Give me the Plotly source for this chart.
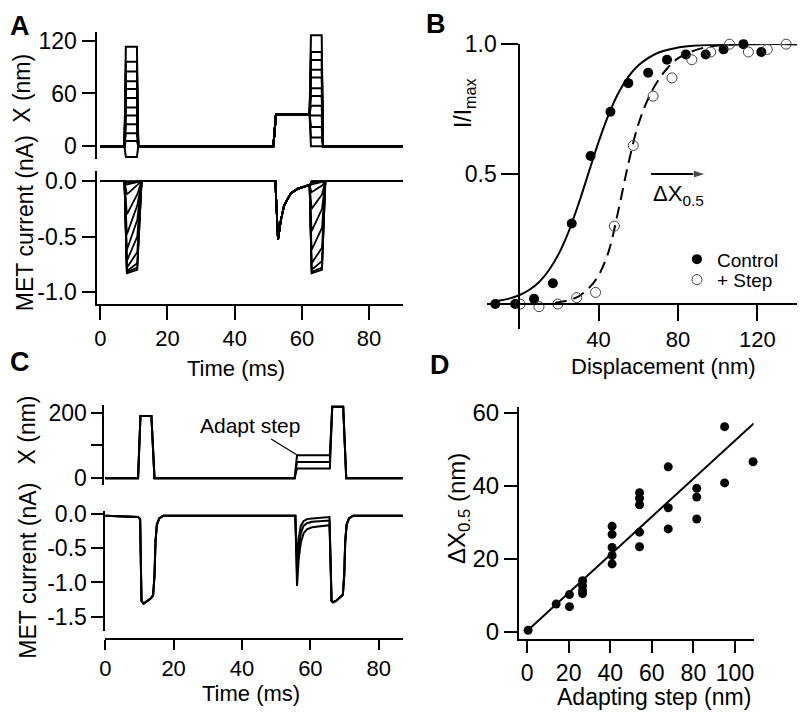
import plotly.graph_objects as go

W, H = 800, 716
FONT = "Liberation Sans, Arial, sans-serif"

# ---------------- Panel A : stimulus (X, nm) ----------------
A_T = [0, 7.2, 7.6, 10.9, 11.3, 51.5, 52.3, 62.3, 62.7, 65.9, 66.3, 90]
A_PULSE1 = [-12, 6, 15, 25, 35, 44, 55, 65, 74, 85, 96, 113]
A_STEP = 36.5
A_PULSE2 = [0, 10, 22, 35, 46, 57, 66, 78, 87, 98, 107, 126]

# ---------------- Panel A : MET current (nA) ----------------
A_I_T_PRE = [0, 7.2, 7.9, 11.0, 12.3]
A_PEAK1 = [0.0, -0.01, -0.03, -0.12, -0.30, -0.48, -0.62, -0.72, -0.78, -0.81, -0.82, -0.83]
A_END1 = [0.0, 0.0, -0.01, -0.04, -0.12, -0.22, -0.35, -0.50, -0.64, -0.74, -0.78, -0.80]
A_ADAPT_T = [52.1, 52.9, 53.7, 54.7, 56.7, 58.7, 61.6]
A_ADAPT_I = [0.0, -0.53, -0.36, -0.22, -0.11, -0.07, -0.04]
A_I_T_POST = [62.3, 62.9, 66.0, 67.0, 90]
A_PEAK2 = [0.0, 0.0, -0.01, -0.03, -0.10, -0.25, -0.45, -0.62, -0.74, -0.80, -0.82, -0.83]
A_END2 = [0.0, 0.0, 0.0, -0.01, -0.04, -0.12, -0.25, -0.42, -0.60, -0.72, -0.78, -0.80]

# ---------------- Panel B : I/Imax vs displacement ----------------
B_CTRL_X = [-12, -2, 7.5, 17, 26.5, 36, 46, 55, 65, 74.5, 84, 94, 103, 113, 122]
B_CTRL_Y = [0.0, 0.0, 0.02, 0.08, 0.31, 0.57, 0.74, 0.85, 0.89, 0.94, 0.96, 0.96, 0.98, 1.0, 0.97]
B_STEP_X = [0.5, 10, 19.5, 29, 38.5, 48, 57.5, 67.5, 77, 87, 96.5, 106, 115.5, 125, 134.5]
B_STEP_Y = [0.0, -0.01, 0.0, 0.025, 0.045, 0.30, 0.61, 0.80, 0.87, 0.94, 0.97, 1.0, 0.97, 0.98, 1.0]
B_FITC_X = [-12, -5, 0, 5, 10, 15, 20, 25, 30, 35, 40, 45, 50, 55, 60, 70, 80, 90, 100, 120, 140]
B_FITC_Y = [0.011, 0.021, 0.034, 0.054, 0.084, 0.13, 0.194, 0.28, 0.387, 0.505, 0.623, 0.727,
            0.812, 0.874, 0.918, 0.967, 0.987, 0.995, 0.998, 1.0, 1.0]
B_FITS_X = [18, 20, 25, 30, 35, 40, 45, 50, 55, 60, 65, 70, 75, 80, 90, 100, 110, 140]
B_FITS_Y = [0.004, 0.007, 0.015, 0.03, 0.06, 0.11, 0.2, 0.36, 0.54, 0.69, 0.79, 0.86, 0.91,
            0.945, 0.98, 0.995, 1.0, 1.0]
B_ARROW_X = [66.5, 94]
B_ARROW_Y = [0.5, 0.5]

# ---------------- Panel C : stimulus ----------------
C_T = [0, 9.6, 10.3, 13.5, 14.4, 55.4, 56.1, 65.7, 66.4, 69.6, 70.5, 87]
C_PULSE1 = 190
C_STEPS = [30, 50, 70]
C_PULSE2 = 218

# ---------------- Panel C : current ----------------
C_I_T_PRE = [0, 9.6, 10.2, 10.6, 11.2, 12.2, 13.2, 14.0, 14.4, 14.7, 15.1, 15.8, 17.0, 55.6]
C_I_PRE = [-0.02, -0.04, -0.07, -1.27, -1.31, -1.28, -1.24, -1.19, -0.9, -0.4, -0.15, -0.06, -0.02, -0.02]
C_ADAPT_T = [56.1, 56.6, 57.2, 58.0, 59.0, 60.5, 63.0, 65.6]
C_ADAPT_I = [
    [-0.70, -0.35, -0.17, -0.10, -0.07, -0.06, -0.05, -0.04],
    [-0.88, -0.50, -0.28, -0.17, -0.13, -0.11, -0.10, -0.09],
    [-1.05, -0.65, -0.42, -0.28, -0.22, -0.19, -0.17, -0.16],
]
C_I_T_POST = [66.2, 66.6, 67.5, 68.5, 69.5, 69.9, 70.2, 70.6, 71.3, 72.5, 87]
C_I_POST = [-1.27, -1.29, -1.27, -1.22, -1.18, -0.9, -0.4, -0.15, -0.06, -0.02, -0.02]

# ---------------- Panel D : shift vs adapting step ----------------
D_X = [0.5, 14, 20.4, 20.4, 26.7, 26.7, 26.7, 26.7, 40.9, 40.9, 40.9, 40.9, 40.9,
       54.1, 54.1, 54.1, 54.1, 54.1, 67.9, 67.9, 67.9, 81.6, 81.6, 81.6, 95, 95, 95, 108.7]
D_Y = [0.4, 7.6, 10.2, 6.9, 14.0, 12.6, 11.3, 10.5, 28.9, 26.7, 23.1, 20.9, 18.6,
       38.1, 36.6, 34.8, 27.3, 23.3, 45.2, 34.0, 28.2, 39.3, 36.9, 30.9, 61.8, 56.2, 40.8, 46.6]
D_FIT_X = [0, 109]
D_FIT_Y = [0.2, 57.1]


def px(x):
    return x / W


def py(y):
    return 1 - y / H


fig = go.Figure()
LINE = dict(color="black", width=2)

# Panel A stimulus
for a1, a2 in zip(A_PULSE1, A_PULSE2):
    yv = [0, 0, a1, a1, 0, 0, A_STEP, A_STEP, a2, a2, 0, 0]
    fig.add_trace(go.Scatter(x=A_T, y=yv, mode="lines", line=LINE, xaxis="x2", yaxis="y2",
                             showlegend=False, hoverinfo="skip", cliponaxis=False))
# Panel A current
for p1, e1, p2, e2 in zip(A_PEAK1, A_END1, A_PEAK2, A_END2):
    tv = A_I_T_PRE + A_ADAPT_T + A_I_T_POST
    iv = [0, 0, p1, e1, 0] + A_ADAPT_I + [-0.04, p2, e2, 0, 0]
    fig.add_trace(go.Scatter(x=tv, y=iv, mode="lines", line=dict(color="black", width=1.8),
                             xaxis="x", yaxis="y", showlegend=False, hoverinfo="skip"))

# Panel B
fig.add_trace(go.Scatter(x=B_FITC_X, y=B_FITC_Y, mode="lines",
                         line=dict(color="black", width=2, shape="spline"),
                         xaxis="x3", yaxis="y3", showlegend=False, cliponaxis=False))
fig.add_trace(go.Scatter(x=B_FITS_X, y=B_FITS_Y, mode="lines",
                         line=dict(color="black", width=2, shape="spline", dash="12px,7px"),
                         xaxis="x3", yaxis="y3", showlegend=False, cliponaxis=False))
fig.add_trace(go.Scatter(x=B_CTRL_X, y=B_CTRL_Y, mode="markers", name="Control", legend="legend",
                         marker=dict(symbol="circle", size=10, color="black"),
                         xaxis="x3", yaxis="y3", cliponaxis=False))
fig.add_trace(go.Scatter(x=B_STEP_X, y=B_STEP_Y, mode="markers", name="+ Step", legend="legend2",
                         marker=dict(symbol="circle-open", size=10, color="#444", line=dict(width=1)),
                         xaxis="x3", yaxis="y3", cliponaxis=False))
fig.add_trace(go.Scatter(x=B_ARROW_X, y=B_ARROW_Y, mode="lines+markers",
                         line=dict(color="black", width=2),
                         marker=dict(symbol=["circle", "arrow"], size=[0, 13], color="black",
                                     angleref="previous"),
                         xaxis="x3", yaxis="y3", showlegend=False, cliponaxis=False))

# Panel C stimulus
for s in C_STEPS:
    yv = [0, 0, C_PULSE1, C_PULSE1, 0, 0, s, s, C_PULSE2, C_PULSE2, 0, 0]
    fig.add_trace(go.Scatter(x=C_T, y=yv, mode="lines", line=LINE, xaxis="x4", yaxis="y4",
                             showlegend=False, hoverinfo="skip", cliponaxis=False))
# Panel C current
for ad in C_ADAPT_I:
    tv = C_I_T_PRE + C_ADAPT_T + C_I_T_POST
    iv = C_I_PRE + ad + C_I_POST
    fig.add_trace(go.Scatter(x=tv, y=iv, mode="lines", line=LINE, xaxis="x5", yaxis="y5",
                             showlegend=False, hoverinfo="skip"))

# Panel D
fig.add_trace(go.Scatter(x=D_FIT_X, y=D_FIT_Y, mode="lines", line=dict(color="black", width=2),
                         xaxis="x6", yaxis="y6", showlegend=False, cliponaxis=False))
fig.add_trace(go.Scatter(x=D_X, y=D_Y, mode="markers", marker=dict(size=9, color="black"),
                         xaxis="x6", yaxis="y6", showlegend=False, cliponaxis=False))

TF = dict(family=FONT, size=23, color="black")
TFS = dict(family=FONT, size=22, color="black")
base = dict(showgrid=False, zeroline=False, showline=True, linecolor="black", linewidth=1.6,
            ticks="outside", tickcolor="black", tickwidth=1.6, tickfont=TF)

A_DOM = [px(92), px(400)]
A_RANGE = [-0.89, 90.1]
C_DOM = [px(99), px(400)]
C_RANGE = [-0.29, 87.1]
LEG = dict(xanchor="left", yanchor="middle", bgcolor="rgba(0,0,0,0)",
           font=dict(family=FONT, size=19, color="black"), itemwidth=30)

fig.update_layout(
    width=W, height=H, margin=dict(l=0, r=0, t=0, b=0),
    paper_bgcolor="white", plot_bgcolor="rgba(0,0,0,0)",
    font=dict(family=FONT, color="black"),
    xaxis=dict(base, domain=A_DOM, range=A_RANGE, anchor="y", ticklen=14, tickfont=TFS,
               tickvals=[0, 20, 40, 60, 80]),
    yaxis=dict(base, domain=[py(299), py(162)], range=[-1.108, 0.094], anchor="x", ticklen=14,
               tickvals=[0, -0.5, -1.0], ticktext=["0.0", "-0.5", "-1.0"]),
    xaxis2=dict(domain=A_DOM, range=A_RANGE, anchor="y2", visible=False),
    yaxis2=dict(base, domain=[py(150), py(20)], range=[-14.35, 129.2], anchor="x2", ticklen=14,
                tickvals=[0, 60, 120], ticktext=["0", "60", "120"]),
    xaxis3=dict(base, domain=[px(485), px(797)], range=[-16, 140], anchor="free", position=py(299),
                ticklen=16, tickfont=TFS, tickvals=[40, 80, 120]),
    yaxis3=dict(base, domain=[py(325), py(32)], range=[-0.0974, 1.0], anchor="free", position=px(517),
                ticklen=17, tickvals=[0.5, 1.0], ticktext=["0.5", "1.0"]),
    xaxis4=dict(domain=C_DOM, range=C_RANGE, anchor="y4", visible=False),
    yaxis4=dict(base, domain=[py(485), py(402.7)], range=[-20.8, 223.4], anchor="x4", ticklen=11,
                tickvals=[0, 200], ticktext=["0", "200"],
                minor=dict(tickvals=[100], ticks="outside", ticklen=11, tickcolor="black", tickwidth=1.6)),
    xaxis5=dict(base, domain=[px(100), px(400)], range=[0, 87.1], anchor="free", position=py(643),
                ticklen=10, tickfont=TFS, tickvals=[0, 20, 40, 60, 80]),
    yaxis5=dict(base, domain=[py(635), py(511.7)], range=[-1.714, 0.047], anchor="free", position=px(99),
                ticklen=12, tickvals=[0, -0.5, -1.0, -1.5], ticktext=["0.0", "-0.5", "-1.0", "-1.5"]),
    xaxis6=dict(base, domain=[px(516.7), px(753.3)], range=[-3.96, 108.97], anchor="y6", ticklen=12,
                tickvals=[0, 20, 40, 60, 80, 100], tickfont=dict(TF, size=23)),
    yaxis6=dict(base, domain=[py(643.3), py(405)], range=[-2.03, 61.52], anchor="x6", ticklen=13,
                tickvals=[0, 20, 40, 60], tickfont=dict(TF, size=24)),
    legend=dict(LEG, x=px(676), y=py(253)),
    legend2=dict(LEG, x=px(676), y=py(274)),
)

ann = []


def label(text, x, y, size=23, angle=0, bold=False, xanchor="center"):
    t = "<b>%s</b>" % text if bold else text
    ann.append(dict(text=t, x=px(x), y=py(y), xref="paper", yref="paper", showarrow=False,
                    xanchor=xanchor, yanchor="middle", textangle=angle,
                    font=dict(family=FONT, size=size, color="black")))


label("A", 14, 13, 27, bold=True)
label("B", 433, 11, 27, bold=True)
label("C", 14, 358, 27, bold=True)
label("D", 437, 362, 27, bold=True)
label("X (nm)", 16, 77, 23, -90)
label("MET current (nA)", 19, 216, 23, -90)
label("Time (ms)", 232, 365, 22)
label("X (nm)", 21, 428, 23, -90)
label("MET current (nA)", 22, 573, 23, -90)
label("Time (ms)", 247, 699, 22)
label("I/I<sub>max</sub>", 462, 93, 23, -90)
label("Displacement (nm)", 662, 363, 22)
label("ΔX<sub>0.5</sub> (nm)", 456, 509, 24, -90)
label("Adapting step (nm)", 653, 703, 23)

ann.append(dict(x=B_ARROW_X[0], y=0.42, xref="x3", yref="y3", text="ΔX<sub>0.5</sub>", showarrow=False,
                xanchor="left", yanchor="middle", font=dict(family=FONT, size=22, color="black")))
ann.append(dict(x=56.0, y=72, xref="x4", yref="y4", text="Adapt step", showarrow=True, arrowhead=0,
                arrowwidth=1.2, arrowcolor="black", ax=-46.7, ay=-28.7,
                font=dict(family=FONT, size=21, color="black")))

fig.update_layout(annotations=ann)
fig.write_html("out.html", config={"displayModeBar": False},
               post_script="document.body.style.margin='0';")
